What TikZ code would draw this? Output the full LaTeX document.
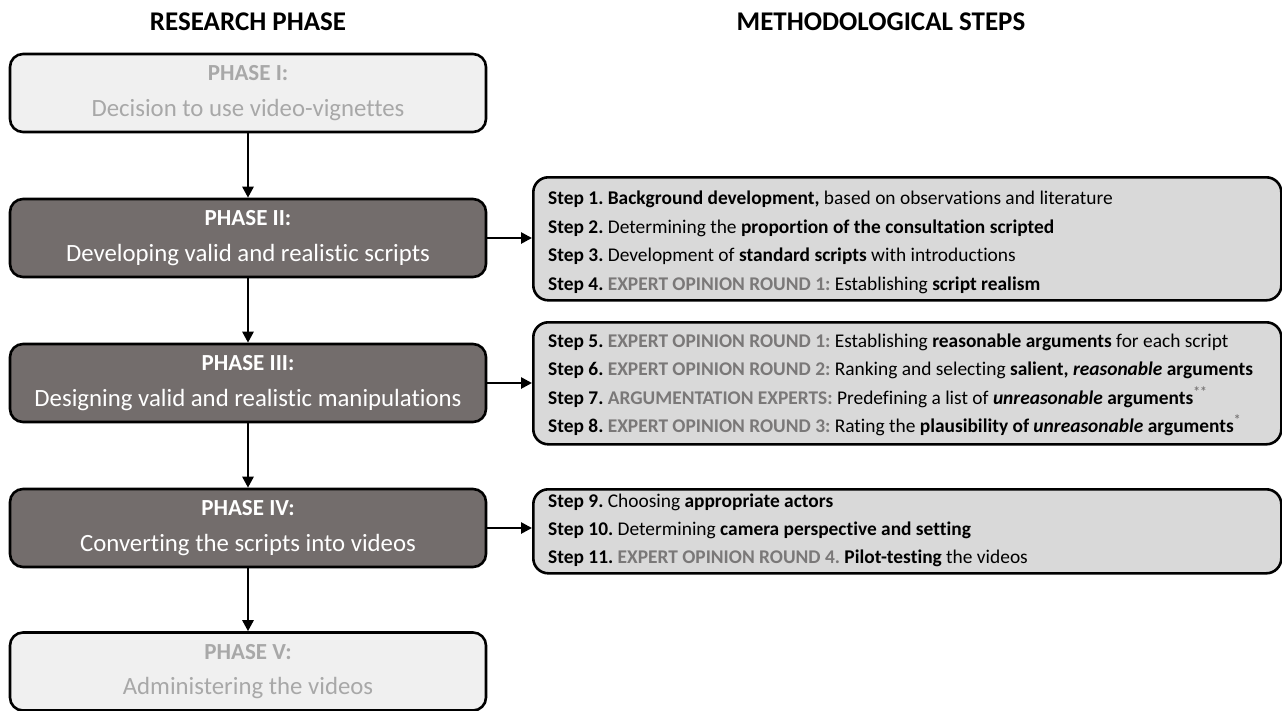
\documentclass[tikz,border=0pt]{standalone}
\usepackage{fontspec}
\setmainfont{Carlito}[Ligatures=NoCommon]
\usetikzlibrary{arrows.meta}
\definecolor{darkph}{HTML}{736D6C}
\definecolor{lightph}{HTML}{F0F0F0}
\definecolor{lighttxt}{HTML}{A8A8A8}
\definecolor{stepfill}{HTML}{D9D9D9}
\definecolor{graytxt}{HTML}{7A7878}
\newcommand{\gr}[1]{\textcolor{graytxt}{\textbf{#1}}}
\frenchspacing
\begin{document}
\begin{tikzpicture}[x=1pt,y=-1pt,
  phasebox/.style={draw=black, line width=2.6pt, rounded corners=13pt, minimum width=476pt, minimum height=78pt, align=center, inner sep=0pt, font=\fontsize{24.8}{35.5}\selectfont},
  darkbox/.style={phasebox, fill=darkph, text=white},
  lightbox/.style={phasebox, fill=lightph, text=lighttxt},
  stepbox/.style={draw=black, line width=2.6pt, rounded corners=15pt, fill=stepfill, minimum width=748pt, inner sep=0pt, anchor=north west},
  steptext/.style={anchor=base west, inner sep=0pt, font=\fontsize{19.4}{23}\selectfont},
  header/.style={font=\fontsize{27}{30}\selectfont\bfseries},
  arr/.style={line width=2.6pt, -{Triangle[length=11pt,width=11pt]}}
]
\useasboundingbox (0,0) rectangle (1282,710);

\node[header] (h1) at (248,22) {RESEARCH PHASE};
\node[header] (h2) at (881,22) {METHODOLOGICAL STEPS};

\node[lightbox] (p1) at (248,93) {{\fontsize{23}{25}\selectfont\bfseries PHASE I:}\\Decision to use video-vignettes};
\node[darkbox] (p2) at (248,238) {{\fontsize{23}{25}\selectfont\bfseries PHASE II:}\\Developing valid and realistic scripts};
\node[darkbox] (p3) at (248,383) {{\fontsize{23}{25}\selectfont\bfseries PHASE III:}\\Designing valid and realistic manipulations};
\node[darkbox] (p4) at (248,528) {{\fontsize{23}{25}\selectfont\bfseries PHASE IV:}\\Converting the scripts into videos};
\node[lightbox] (p5) at (248,671.5) {{\fontsize{23}{25}\selectfont\bfseries PHASE V:}\\Administering the videos};

\node[stepbox, minimum height=123pt] (s1) at (532,176) {};
\node[stepbox, minimum height=122pt] (s2) at (532,321) {};
\node[stepbox, minimum height=84pt] (s3) at (532,488) {};

\node[steptext] (t1) at (548,204.5) {\textbf{Step 1. Background development,} based on observations and literature};
\node[steptext] (t2) at (548,233) {\textbf{Step 2.} Determining the \textbf{proportion of the consultation scripted}};
\node[steptext] (t3) at (548,261.5) {\textbf{Step 3.} Development of \textbf{standard scripts} with introductions};
\node[steptext] (t4) at (548,290) {\textbf{Step 4.} \gr{EXPERT OPINION ROUND 1:} Establishing \textbf{script realism}};

\node[steptext] (t5) at (548,347.3) {\textbf{Step 5.} \gr{EXPERT OPINION ROUND 1:} Establishing \textbf{reasonable arguments} for each script};
\node[steptext] (t6) at (548,375.6) {\textbf{Step 6.} \gr{EXPERT OPINION ROUND 2:} Ranking and selecting \textbf{salient, \textit{reasonable}} \textbf{arguments}};
\node[steptext] (t7) at (548,404) {\textbf{Step 7.} \gr{ARGUMENTATION EXPERTS:} Predefining a list of \textbf{\textit{unreasonable}} \textbf{arguments}\textsuperscript{\gr{**}}};
\node[steptext] (t8) at (548,432.3) {\textbf{Step 8.} \gr{EXPERT OPINION ROUND 3:} Rating the \textbf{plausibility of \textit{unreasonable}} \textbf{arguments}\textsuperscript{\gr{*}}};

\node[steptext] (t9) at (548,507.7) {\textbf{Step 9.} Choosing \textbf{appropriate actors}};
\node[steptext] (t10) at (548,535.5) {\textbf{Step 10.} Determining \textbf{camera perspective and setting}};
\node[steptext] (t11) at (548,563.3) {\textbf{Step 11.} \gr{EXPERT OPINION ROUND 4.} \textbf{Pilot-testing} the videos};

\draw[arr] (p1) -- (p2);
\draw[arr] (p2) -- (p3);
\draw[arr] (p3) -- (p4);
\draw[arr] (p4) -- (p5);
\draw[arr] (p2.east) -- (s1.west |- p2.east);
\draw[arr] (p3.east) -- (s2.west |- p3.east);
\draw[arr] (p4.east) -- (s3.west |- p4.east);
\end{tikzpicture}
\end{document}
